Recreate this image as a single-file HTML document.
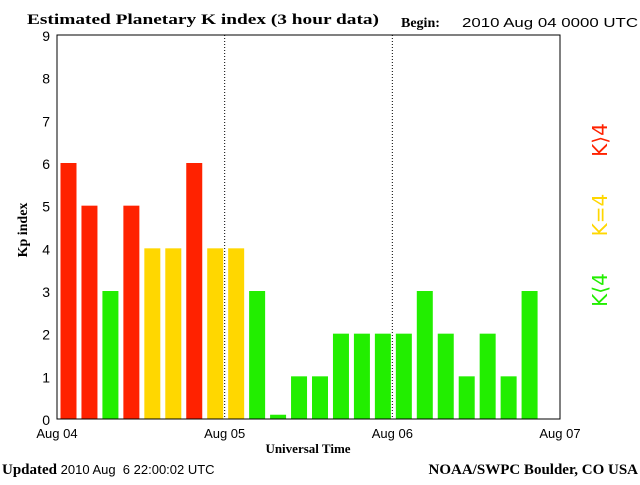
<!DOCTYPE html>
<html><head><meta charset="utf-8"><style>
body{margin:0;background:#fff;}
svg text{font-family:"Liberation Serif",serif;}
.s{font-family:"Liberation Sans",sans-serif;}
.d{font-family:"DejaVu Sans",sans-serif;}
</style></head><body>
<svg id="c" width="640" height="480" xmlns="http://www.w3.org/2000/svg">
<text x="27" y="24" font-size="15" font-weight="bold" textLength="352" lengthAdjust="spacingAndGlyphs">Estimated Planetary K index (3 hour data)</text>
<text x="401" y="27" font-size="14" font-weight="bold">Begin:</text>
<text x="462" y="27" font-size="13" class="s" textLength="176" lengthAdjust="spacingAndGlyphs">2010 Aug 04 0000 UTC</text>
<g id="bars"></g>
<rect x="57" y="35" width="503" height="384" fill="none" stroke="#000" stroke-width="1"/>
<g id="axes"></g>
<text x="27" y="230" font-size="14" font-weight="bold" transform="rotate(-90 27 230)" text-anchor="middle">Kp index</text>
<text x="308" y="453" font-size="13" font-weight="bold" text-anchor="middle">Universal Time</text>
<text x="607" y="290" font-size="20" fill="#22ee00" transform="rotate(-90 607 290)" text-anchor="middle" class="d">K⟨4</text>
<text x="607" y="215" font-size="20" fill="#ffd700" transform="rotate(-90 607 215)" text-anchor="middle" class="d">K=4</text>
<text x="607" y="140" font-size="20" fill="#ff2200" transform="rotate(-90 607 140)" text-anchor="middle" class="d">K⟩4</text>
<text x="2" y="474" font-size="15"><tspan font-weight="bold">Updated</tspan><tspan class="s" font-size="13"> 2010 Aug&#160;&#160;6 22:00:02 UTC</tspan></text>
<text x="638" y="474" font-size="15" font-weight="bold" text-anchor="end">NOAA/SWPC Boulder, CO USA</text>
</svg>
<script>
const kpValues=[6,5,3,5,4,4,6,4,4,3,0.1,1,1,2,2,2,2,3,2,1,2,1,3];
const yTicks=[0,1,2,3,4,5,6,7,8,9];
const dayLabels=["Aug 04","Aug 05","Aug 06","Aug 07"];
const NS="http://www.w3.org/2000/svg";
const L=57,R=560,T=35,B=419,slots=24;
const xs=i=>L+(R-L)*i/slots;
const ys=v=>B-(B-T)*v/9;
const bars=document.getElementById('bars'),ax=document.getElementById('axes');
function mk(tag,a,p){const e=document.createElementNS(NS,tag);for(const k in a)e.setAttribute(k,a[k]);p.appendChild(e);return e;}
kpValues.forEach((v,i)=>{
 const col=v>4?'#ff2200':(v===4?'#ffd700':'#22ee00');
 const r=mk('rect',{x:xs(i)+3.5,y:ys(v),width:16,height:B-ys(v),fill:col},bars);
 
 
});
yTicks.forEach(t=>{
 const tx=mk('text',{x:50,y:ys(t)+6,'font-size':14,'text-anchor':'end',class:'s',fill:'#000'},ax);
 tx.textContent=t;
 
 
});
dayLabels.forEach((d,i)=>{
 const x=xs(i*8);
 const tx=mk('text',{x:x,y:438,'font-size':13,'text-anchor':'middle',class:'s'},ax);
 tx.textContent=d;
 
 
 if(i>0&&i<3){
  const ln=mk('line',{x1:x,y1:T,x2:x,y2:B,stroke:'#000','stroke-dasharray':'1,2'},ax);
  
  
 }
});
</script>
</body></html>
